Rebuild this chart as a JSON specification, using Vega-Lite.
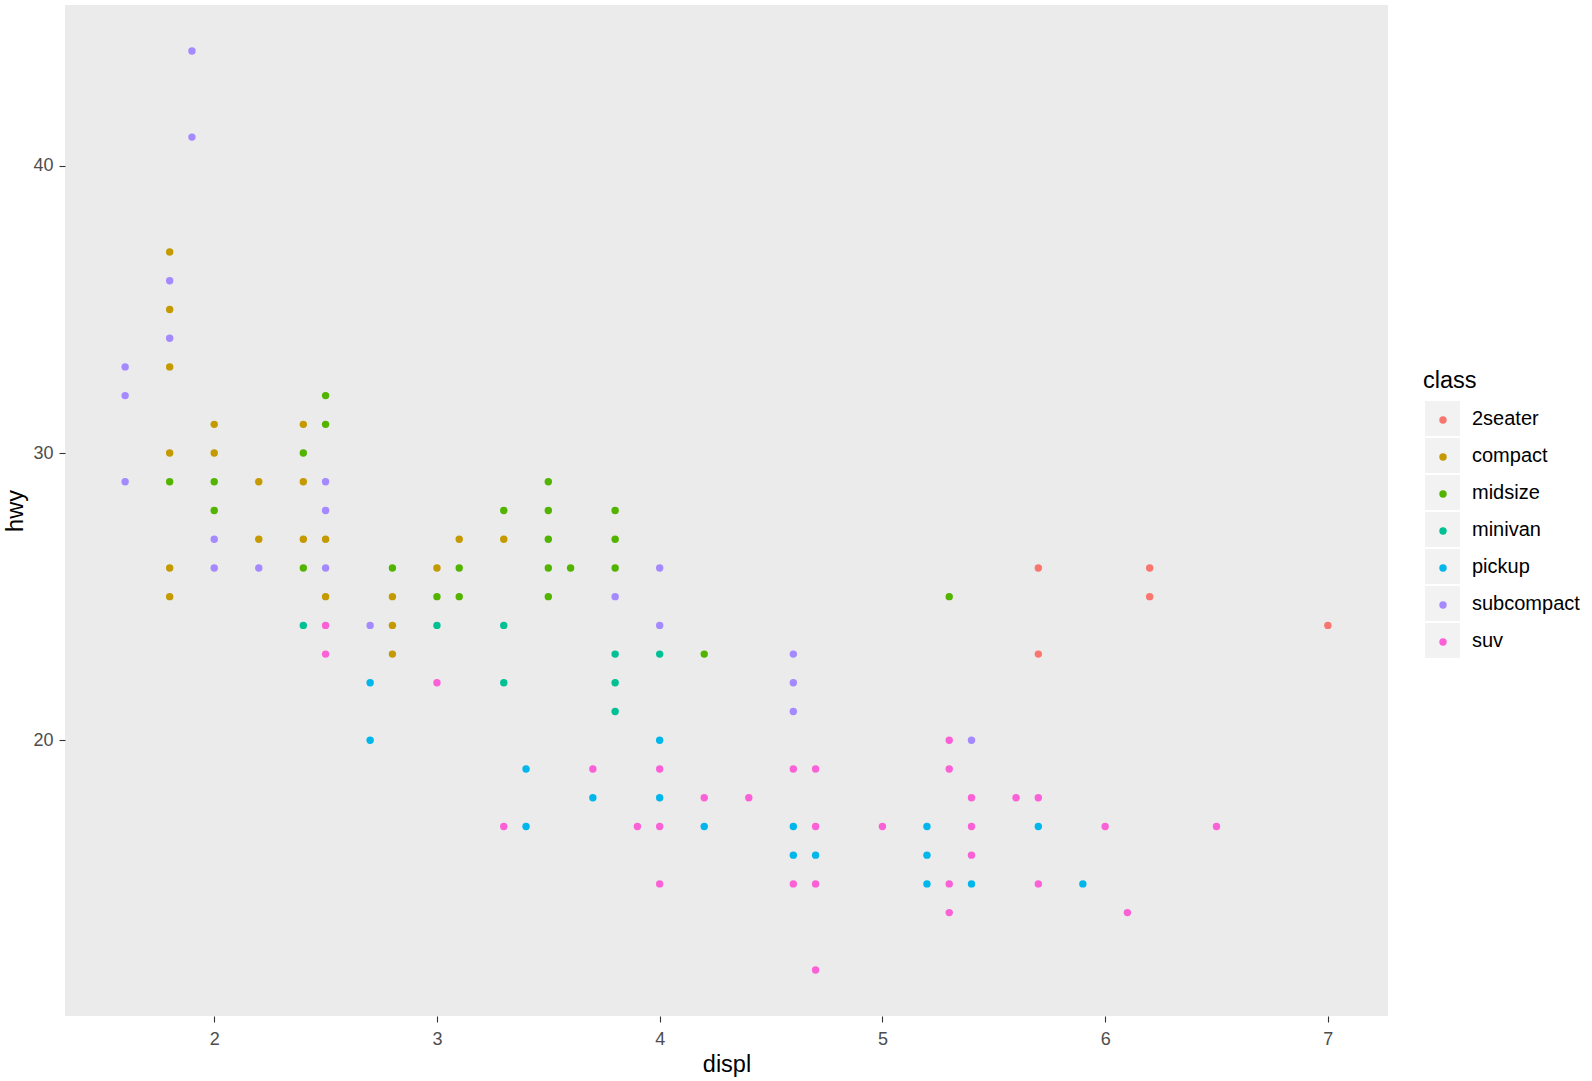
{
  "$schema": "https://vega.github.io/schema/vega-lite/v6.json",
  "width": 1323,
  "height": 1011,
  "autosize": {"type": "none"},
  "padding": {"left": 65, "top": 5, "right": 204, "bottom": 65},
  "background": "white",
  "config": {
    "view": {"fill": "#EBEBEB", "stroke": null},
    "font": "Liberation Sans",
    "axis": {
      "grid": false, "domain": false,
      "tickColor": "#333333", "tickSize": 6, "tickWidth": 1.1,
      "labelColor": "#4D4D4D", "labelFontSize": 18, "labelFont": "Liberation Sans",
      "titleFont": "Liberation Sans", "titleFontSize": 23.5, "titleFontWeight": "normal", "titleColor": "#000000"
    }
  },
  "data": {"values": [
    {"displ": 5.7, "hwy": 26, "class": "2seater"},
    {"displ": 5.7, "hwy": 23, "class": "2seater"},
    {"displ": 6.2, "hwy": 26, "class": "2seater"},
    {"displ": 6.2, "hwy": 25, "class": "2seater"},
    {"displ": 7.0, "hwy": 24, "class": "2seater"},
    {"displ": 1.8, "hwy": 37, "class": "compact"},
    {"displ": 1.8, "hwy": 35, "class": "compact"},
    {"displ": 1.8, "hwy": 33, "class": "compact"},
    {"displ": 1.8, "hwy": 30, "class": "compact"},
    {"displ": 1.8, "hwy": 26, "class": "compact"},
    {"displ": 1.8, "hwy": 25, "class": "compact"},
    {"displ": 2.0, "hwy": 31, "class": "compact"},
    {"displ": 2.0, "hwy": 30, "class": "compact"},
    {"displ": 2.2, "hwy": 29, "class": "compact"},
    {"displ": 2.2, "hwy": 27, "class": "compact"},
    {"displ": 2.4, "hwy": 31, "class": "compact"},
    {"displ": 2.4, "hwy": 29, "class": "compact"},
    {"displ": 2.4, "hwy": 27, "class": "compact"},
    {"displ": 2.5, "hwy": 27, "class": "compact"},
    {"displ": 2.5, "hwy": 25, "class": "compact"},
    {"displ": 2.8, "hwy": 25, "class": "compact"},
    {"displ": 2.8, "hwy": 24, "class": "compact"},
    {"displ": 2.8, "hwy": 23, "class": "compact"},
    {"displ": 3.0, "hwy": 26, "class": "compact"},
    {"displ": 3.1, "hwy": 27, "class": "compact"},
    {"displ": 3.3, "hwy": 27, "class": "compact"},
    {"displ": 1.8, "hwy": 29, "class": "midsize"},
    {"displ": 2.0, "hwy": 29, "class": "midsize"},
    {"displ": 2.0, "hwy": 28, "class": "midsize"},
    {"displ": 2.4, "hwy": 30, "class": "midsize"},
    {"displ": 2.4, "hwy": 26, "class": "midsize"},
    {"displ": 2.5, "hwy": 32, "class": "midsize"},
    {"displ": 2.5, "hwy": 31, "class": "midsize"},
    {"displ": 2.8, "hwy": 26, "class": "midsize"},
    {"displ": 3.0, "hwy": 25, "class": "midsize"},
    {"displ": 3.1, "hwy": 26, "class": "midsize"},
    {"displ": 3.1, "hwy": 25, "class": "midsize"},
    {"displ": 3.3, "hwy": 28, "class": "midsize"},
    {"displ": 3.5, "hwy": 29, "class": "midsize"},
    {"displ": 3.5, "hwy": 28, "class": "midsize"},
    {"displ": 3.5, "hwy": 27, "class": "midsize"},
    {"displ": 3.5, "hwy": 26, "class": "midsize"},
    {"displ": 3.5, "hwy": 25, "class": "midsize"},
    {"displ": 3.6, "hwy": 26, "class": "midsize"},
    {"displ": 3.8, "hwy": 28, "class": "midsize"},
    {"displ": 3.8, "hwy": 27, "class": "midsize"},
    {"displ": 3.8, "hwy": 26, "class": "midsize"},
    {"displ": 4.2, "hwy": 23, "class": "midsize"},
    {"displ": 5.3, "hwy": 25, "class": "midsize"},
    {"displ": 2.4, "hwy": 24, "class": "minivan"},
    {"displ": 3.0, "hwy": 24, "class": "minivan"},
    {"displ": 3.3, "hwy": 24, "class": "minivan"},
    {"displ": 3.3, "hwy": 22, "class": "minivan"},
    {"displ": 3.8, "hwy": 23, "class": "minivan"},
    {"displ": 3.8, "hwy": 22, "class": "minivan"},
    {"displ": 3.8, "hwy": 21, "class": "minivan"},
    {"displ": 4.0, "hwy": 23, "class": "minivan"},
    {"displ": 2.7, "hwy": 22, "class": "pickup"},
    {"displ": 2.7, "hwy": 20, "class": "pickup"},
    {"displ": 3.4, "hwy": 19, "class": "pickup"},
    {"displ": 3.4, "hwy": 17, "class": "pickup"},
    {"displ": 3.7, "hwy": 18, "class": "pickup"},
    {"displ": 4.0, "hwy": 20, "class": "pickup"},
    {"displ": 4.0, "hwy": 18, "class": "pickup"},
    {"displ": 4.2, "hwy": 17, "class": "pickup"},
    {"displ": 4.6, "hwy": 17, "class": "pickup"},
    {"displ": 4.6, "hwy": 16, "class": "pickup"},
    {"displ": 4.7, "hwy": 16, "class": "pickup"},
    {"displ": 5.2, "hwy": 17, "class": "pickup"},
    {"displ": 5.2, "hwy": 16, "class": "pickup"},
    {"displ": 5.2, "hwy": 15, "class": "pickup"},
    {"displ": 5.4, "hwy": 15, "class": "pickup"},
    {"displ": 5.7, "hwy": 17, "class": "pickup"},
    {"displ": 5.9, "hwy": 15, "class": "pickup"},
    {"displ": 1.6, "hwy": 33, "class": "subcompact"},
    {"displ": 1.6, "hwy": 32, "class": "subcompact"},
    {"displ": 1.6, "hwy": 29, "class": "subcompact"},
    {"displ": 1.8, "hwy": 36, "class": "subcompact"},
    {"displ": 1.8, "hwy": 34, "class": "subcompact"},
    {"displ": 1.9, "hwy": 44, "class": "subcompact"},
    {"displ": 1.9, "hwy": 41, "class": "subcompact"},
    {"displ": 2.0, "hwy": 27, "class": "subcompact"},
    {"displ": 2.0, "hwy": 26, "class": "subcompact"},
    {"displ": 2.2, "hwy": 26, "class": "subcompact"},
    {"displ": 2.5, "hwy": 29, "class": "subcompact"},
    {"displ": 2.5, "hwy": 28, "class": "subcompact"},
    {"displ": 2.5, "hwy": 26, "class": "subcompact"},
    {"displ": 2.7, "hwy": 24, "class": "subcompact"},
    {"displ": 3.8, "hwy": 25, "class": "subcompact"},
    {"displ": 4.0, "hwy": 26, "class": "subcompact"},
    {"displ": 4.0, "hwy": 24, "class": "subcompact"},
    {"displ": 4.6, "hwy": 23, "class": "subcompact"},
    {"displ": 4.6, "hwy": 22, "class": "subcompact"},
    {"displ": 4.6, "hwy": 21, "class": "subcompact"},
    {"displ": 5.4, "hwy": 20, "class": "subcompact"},
    {"displ": 2.5, "hwy": 24, "class": "suv"},
    {"displ": 2.5, "hwy": 23, "class": "suv"},
    {"displ": 3.0, "hwy": 22, "class": "suv"},
    {"displ": 3.3, "hwy": 17, "class": "suv"},
    {"displ": 3.7, "hwy": 19, "class": "suv"},
    {"displ": 3.9, "hwy": 17, "class": "suv"},
    {"displ": 4.0, "hwy": 19, "class": "suv"},
    {"displ": 4.0, "hwy": 17, "class": "suv"},
    {"displ": 4.0, "hwy": 15, "class": "suv"},
    {"displ": 4.2, "hwy": 18, "class": "suv"},
    {"displ": 4.4, "hwy": 18, "class": "suv"},
    {"displ": 4.6, "hwy": 19, "class": "suv"},
    {"displ": 4.6, "hwy": 15, "class": "suv"},
    {"displ": 4.7, "hwy": 19, "class": "suv"},
    {"displ": 4.7, "hwy": 17, "class": "suv"},
    {"displ": 4.7, "hwy": 15, "class": "suv"},
    {"displ": 4.7, "hwy": 12, "class": "suv"},
    {"displ": 5.0, "hwy": 17, "class": "suv"},
    {"displ": 5.3, "hwy": 20, "class": "suv"},
    {"displ": 5.3, "hwy": 19, "class": "suv"},
    {"displ": 5.3, "hwy": 15, "class": "suv"},
    {"displ": 5.3, "hwy": 14, "class": "suv"},
    {"displ": 5.4, "hwy": 18, "class": "suv"},
    {"displ": 5.4, "hwy": 17, "class": "suv"},
    {"displ": 5.4, "hwy": 16, "class": "suv"},
    {"displ": 5.6, "hwy": 18, "class": "suv"},
    {"displ": 5.7, "hwy": 18, "class": "suv"},
    {"displ": 5.7, "hwy": 15, "class": "suv"},
    {"displ": 6.0, "hwy": 17, "class": "suv"},
    {"displ": 6.1, "hwy": 14, "class": "suv"},
    {"displ": 6.5, "hwy": 17, "class": "suv"}
  ]},
  "mark": {"type": "circle", "size": 55, "opacity": 1},
  "encoding": {
    "x": {
      "field": "displ", "type": "quantitative",
      "scale": {"domain": [1.33, 7.27], "nice": false, "zero": false},
      "axis": {"values": [2, 3, 4, 5, 6, 7], "labelPadding": 8, "titlePadding": 4, "labelFlush": false}
    },
    "y": {
      "field": "hwy", "type": "quantitative",
      "scale": {"domain": [10.4, 45.6], "nice": false, "zero": false},
      "axis": {"values": [20, 30, 40], "labelPadding": 6, "titlePadding": 5, "labelFlush": false}
    },
    "color": {
      "field": "class", "type": "nominal",
      "scale": {"range": ["#F8766D", "#C49A00", "#53B400", "#00C094", "#00B6EB", "#A58AFF", "#FB61D7"]},
      "legend": {
        "orient": "none", "legendX": 1369, "legendY": 406, "title": null, "zindex": 2,
        "symbolType": "circle", "symbolSize": 55, "symbolStrokeWidth": 0, "symbolOpacity": 1,
        "labelExpr": "''", "labelFontSize": 18, "rowPadding": 19, "padding": 0
      }
    },
    "opacity": {
      "field": "class", "type": "nominal",
      "scale": {"domain": ["2seater", "compact", "midsize", "minivan", "pickup", "subcompact", "suv"], "range": [1, 1, 1, 1, 1, 1, 1]},
      "legend": {
        "orient": "none", "legendX": 1358, "legendY": 364, "title": "class", "zindex": 1,
        "symbolType": "square", "symbolSize": 1225, "symbolFillColor": "#F2F2F2", "symbolStrokeWidth": 0,
        "symbolOffset": 2, "rowPadding": 2, "labelOffset": 12, "labelFontSize": 20, "labelColor": "#000000",
        "labelFont": "Liberation Sans", "titleFont": "Liberation Sans",
        "titleFontSize": 23.5, "titleFontWeight": "normal", "titleColor": "#000000", "titlePadding": 8.5, "padding": 0
      }
    }
  }
}
